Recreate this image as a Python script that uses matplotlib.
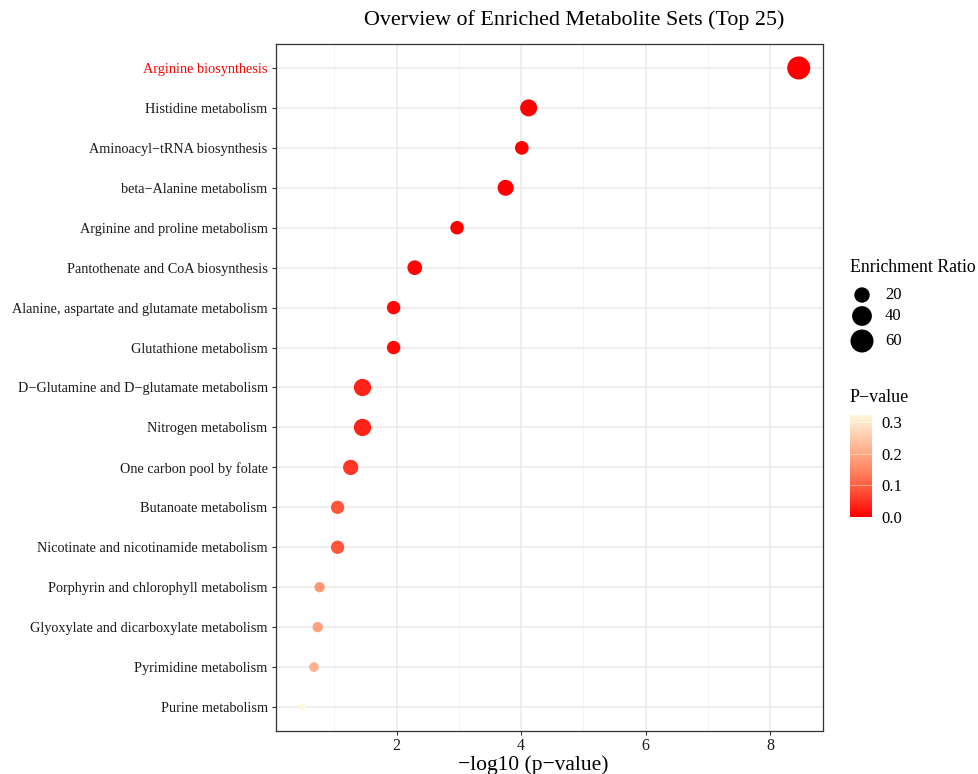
import numpy as np
import matplotlib
matplotlib.use("Agg")
import matplotlib.pyplot as plt
from matplotlib.colors import LinearSegmentedColormap, Normalize

plt.rcParams['font.family'] = ['Liberation Serif', 'DejaVu Serif']

# metabolite sets, top to bottom
pathways = [
    "Arginine biosynthesis",
    "Histidine metabolism",
    "Aminoacyl\u2212tRNA biosynthesis",
    "beta\u2212Alanine metabolism",
    "Arginine and proline metabolism",
    "Pantothenate and CoA biosynthesis",
    "Alanine, aspartate and glutamate metabolism",
    "Glutathione metabolism",
    "D\u2212Glutamine and D\u2212glutamate metabolism",
    "Nitrogen metabolism",
    "One carbon pool by folate",
    "Butanoate metabolism",
    "Nicotinate and nicotinamide metabolism",
    "Porphyrin and chlorophyll metabolism",
    "Glyoxylate and dicarboxylate metabolism",
    "Pyrimidine metabolism",
    "Purine metabolism",
]
neg_log_p = [8.46, 4.12, 4.01, 3.75, 2.97, 2.29, 1.95, 1.95, 1.45, 1.45,
             1.26, 1.05, 1.05, 0.76, 0.73, 0.67, 0.49]
enrichment_ratio = [60.0, 26.5, 14.6, 22.4, 14.0, 17.7, 14.0, 14.0, 27.8, 27.8,
                    19.8, 13.5, 13.5, 7.3, 7.3, 6.5, 5.0]
size_breaks = [20, 40, 60]
p_ticks = [0.0, 0.1, 0.2, 0.3]

W, H = 979, 774
fig = plt.figure(figsize=(W / 100, H / 100), dpi=100)


def fig_box(x0, y0, x1, y1):
    # pixel box (top-left origin) -> figure fraction rect
    return [x0 / W, 1 - y1 / H, (x1 - x0) / W, (y1 - y0) / H]


neg_log_p = np.array(neg_log_p)
ratio = np.array(enrichment_ratio)
pval = 10 ** (-neg_log_p)

rmin, rmax = ratio.min(), ratio.max()


def marker_area(r):
    # diameter grows with sqrt of the rescaled ratio (px), returned as pt^2
    frac = np.clip((np.asarray(r, float) - rmin) / (rmax - rmin), 0, None)
    d_px = 7 + 16 * np.sqrt(frac)
    return (d_px * 0.72) ** 2


cmap = LinearSegmentedColormap.from_list(
    "pv", ["#FF0000", "#FF5034", "#FF8F6C", "#FFC3A3", "#FFF8DC"])
norm = Normalize(vmin=pval.min(), vmax=pval.max())

ax = fig.add_axes(fig_box(276, 44, 823, 731))
ypos = np.arange(len(pathways))
ax.scatter(neg_log_p, ypos, s=marker_area(ratio), c=pval, cmap=cmap, norm=norm,
           edgecolors='none', zorder=3)

ax.set_xlim(0.06, 8.85)
ax.set_ylim(len(pathways) - 0.4, -0.6)
ax.set_xticks([2, 4, 6, 8])
ax.set_xticks([1, 3, 5, 7], minor=True)
ax.set_yticks(ypos)
ax.set_yticklabels(pathways)
ax.grid(which='major', color='#EBEBEB', linewidth=1.1, zorder=0)
ax.grid(which='minor', axis='x', color='#F2F2F2', linewidth=0.6, zorder=0)
ax.set_axisbelow(True)
ax.tick_params(axis='both', which='major', length=3,
               color='#333333', labelcolor='#1A1A1A', width=0.8)
ax.tick_params(axis='y', labelsize=10.25, pad=3)
ax.tick_params(axis='x', labelsize=11.5, pad=2)
ax.tick_params(axis='x', which='minor', length=0)
ax.get_yticklabels()[0].set_color('#FF0000')
for sp in ax.spines.values():
    sp.set_color('#333333')
    sp.set_linewidth(0.9)

fig.text(533 / W, 1 - 765 / H, "\u2212log10 (p\u2212value)", fontsize=15.5,
         ha='center', va='center')
fig.text(574 / W, 1 - 20 / H, "Overview of Enriched Metabolite Sets (Top 25)",
         fontsize=15.8, ha='center', va='center')

# size key
kax = fig.add_axes(fig_box(830, 250, 979, 380))
kax.set_xlim(830, 979)
kax.set_ylim(380, 250)
kax.axis('off')
kax.text(850, 268, "Enrichment Ratio", fontsize=12.8, va='center', ha='left')
key_y = [295, 316, 341]
kax.scatter([862] * 3, key_y, s=marker_area(size_breaks), c='black',
            edgecolors='none', clip_on=False)
for yy, b in zip(key_y, size_breaks):
    kax.text(885, yy, str(b), fontsize=12, va='center', ha='left')

# p-value colour bar
fig.text(850 / W, 1 - 398 / H, "P\u2212value", fontsize=13, va='center', ha='left')
cax = fig.add_axes(fig_box(850, 415, 872, 517))
sm = plt.cm.ScalarMappable(norm=norm, cmap=cmap)
cb = fig.colorbar(sm, cax=cax)
cb.outline.set_visible(False)
cb.set_ticks(p_ticks)
cb.set_ticklabels([f"{t:.1f}" for t in p_ticks])
cax.tick_params(length=0, labelsize=12, pad=7)
for t in p_ticks:
    cax.plot([0, 1], [t, t], transform=cax.get_yaxis_transform(),
             color='white', linewidth=0.6, alpha=0.5, solid_capstyle='butt')

fig.savefig("out.png", dpi=100)
